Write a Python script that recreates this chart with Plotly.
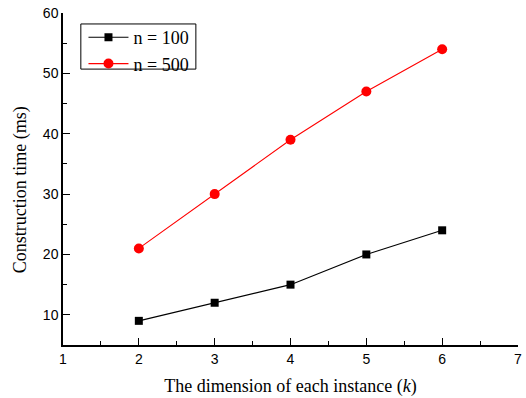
import plotly.graph_objects as go

# Dimension of each instance (k)
dims = [2, 3, 4, 5, 6]
# Construction time (ms) for two instance counts
time_n100 = [9, 12, 15, 20, 24]
time_n500 = [21, 30, 39, 47, 54]

x_ticks = [1, 2, 3, 4, 5, 6, 7]
y_ticks = [10, 20, 30, 40, 50, 60]

SERIF = "Liberation Serif, Times New Roman, serif"
SANS = "Liberation Sans, Arial, sans-serif"

fig = go.Figure()
fig.add_trace(go.Scatter(
    x=dims, y=time_n100, mode="lines+markers", name="n = 100",
    line=dict(color="black", width=1.1),
    marker=dict(symbol="square", size=8, color="black"),
))
fig.add_trace(go.Scatter(
    x=dims, y=time_n500, mode="lines+markers", name="n = 500",
    line=dict(color="#ff0000", width=1.1),
    marker=dict(symbol="circle", size=10, color="#ff0000"),
))

axis_common = dict(
    showline=True, linecolor="black", linewidth=1.5,
    ticks="inside", ticklen=7, tickwidth=1.2, tickcolor="black",
    showgrid=False, zeroline=False, mirror=False,
    ticklabeloverflow="allow",
    tickfont=dict(family=SANS, size=14, color="black"),
)

fig.update_layout(
    width=526, height=398,
    margin=dict(l=63, r=4, t=13, b=53),
    paper_bgcolor="white", plot_bgcolor="white",
    xaxis=dict(
        range=[1, 7], tickvals=x_ticks, **axis_common,
        minor=dict(ticks="inside", ticklen=4, tickwidth=1, tickcolor="black", dtick=0.5, showgrid=False),
        title=dict(text="The dimension of each instance (<i>k</i>)",
                   font=dict(family=SERIF, size=18, color="black"),
                   standoff=14),
    ),
    yaxis=dict(
        range=[5, 60], tickvals=y_ticks, **axis_common,
        minor=dict(ticks="inside", ticklen=4, tickwidth=1, tickcolor="black", dtick=5, tick0=0, showgrid=False),
    ),
    legend=dict(
        x=0.045, y=0.982, xanchor="left", yanchor="top",
        bgcolor="rgba(0,0,0,0)", borderwidth=0,
        font=dict(family=SERIF, size=18, color="black"),
        tracegroupgap=0, itemwidth=40,
    ),
)

# Vertical axis title, sitting slightly below the plot's mid-height
fig.add_annotation(
    text="Construction time (ms)", textangle=-90,
    xref="paper", yref="paper", x=-0.0915, y=0.467,
    xanchor="center", yanchor="middle", showarrow=False,
    font=dict(family=SERIF, size=18, color="black"),
)

# Framed white panel behind the legend entries
fig.add_shape(
    type="rect", xref="paper", yref="paper",
    x0=0.0392, x1=0.292, y0=0.831, y1=0.967,
    line=dict(color="black", width=1), fillcolor="white", layer="above",
)

fig.write_html("out.html")
